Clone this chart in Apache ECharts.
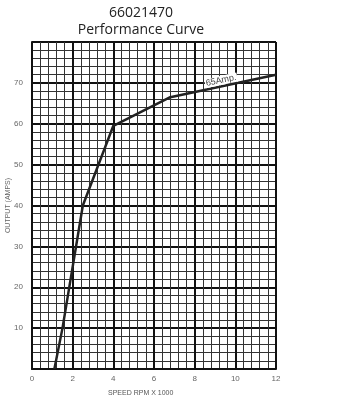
<!DOCTYPE html>
<html>
<head>
<meta charset="utf-8">
<script src="https://cdn.jsdelivr.net/npm/echarts@6/dist/echarts.min.js"></script>
<style>html,body{margin:0;padding:0;background:#fff}#c{width:337px;height:400px}</style>
</head>
<body>
<div id="c"></div>
<script>
var titleLines = ['66021470', 'Performance Curve'];
var speedRpm = [1.1, 1.5, 2.5, 4.0, 6.8, 12];
var outputAmps = [0, 10, 40, 59.5, 66.5, 72];
var annotation = {text: '65Amp.', x: 9.3, y: 70.6};
var xTicks = [0, 2, 4, 6, 8, 10, 12];
var yTicks = [10, 20, 30, 40, 50, 60, 70];

var chart = echarts.init(document.getElementById('c'), null, {renderer: 'canvas'});
var font = 'Liberation Sans Narrow, Liberation Sans, sans-serif';
var data = speedRpm.map(function (x, i) { return [x, outputAmps[i]]; });
chart.setOption({
  backgroundColor: '#fff',
  animation: false,
  title: [
    {text: titleLines[0], left: 136, top: 1, textAlign: 'center',
     textStyle: {fontSize: 14, fontWeight: 'normal', color: '#222', fontFamily: 'Open Sans, sans-serif'}},
    {text: titleLines[1], left: 136, top: 18, textAlign: 'center',
     textStyle: {fontSize: 14, fontWeight: 'normal', color: '#222', fontFamily: 'Open Sans, sans-serif'}}
  ],
  grid: {left: 32, right: 61, top: 42, bottom: 31, containLabel: false, outerBoundsMode: 'none'},
  xAxis: {
    type: 'value', min: 0, max: 12, interval: 2,
    axisLine: {show: true, lineStyle: {color: '#111', width: 2}},
    axisTick: {show: false},
    axisLabel: {
      color: '#666', fontSize: 8, fontFamily: font, margin: 6,
      formatter: function (v) { return xTicks.indexOf(v) >= 0 ? String(v) : ''; }
    },
    splitLine: {show: true, lineStyle: {color: '#111', width: 2}},
    minorTick: {show: false, splitNumber: 5},
    minorSplitLine: {show: true, lineStyle: {color: '#333', width: 1}}
  },
  yAxis: {
    type: 'value', min: 0, max: 80, interval: 10,
    name: 'OUTPUT (AMPS)', nameLocation: 'middle', nameGap: 20, nameMoveOverlap: false,
    nameTextStyle: {color: '#666', fontSize: 7, fontFamily: font},
    axisLine: {show: true, lineStyle: {color: '#111', width: 2}},
    axisTick: {show: false},
    axisLabel: {
      color: '#666', fontSize: 8, fontFamily: font, margin: 9,
      formatter: function (v) { return yTicks.indexOf(v) >= 0 ? String(v) : ''; }
    },
    splitLine: {show: true, lineStyle: {color: '#111', width: 2}},
    minorTick: {show: false, splitNumber: 5},
    minorSplitLine: {show: true, lineStyle: {color: '#333', width: 1}}
  },
  graphic: [
    {type: 'text', left: 108, top: 390,
     style: {text: 'SPEED RPM X 1000', fill: '#555', fontSize: 7, fontFamily: font}}
  ],
  series: [{
    type: 'line', data: data, symbol: 'none',
    lineStyle: {color: '#222', width: 2.5},
    markPoint: {
      symbol: 'circle', symbolSize: 0,
      data: [{coord: [annotation.x, annotation.y], value: annotation.text}],
      label: {show: true, position: 'inside', formatter: annotation.text, rotate: 12,
              color: '#444', fontSize: 9, fontFamily: font,
              backgroundColor: '#fff', padding: [0, 1]}
    }
  }]
});
</script>
</body>
</html>
